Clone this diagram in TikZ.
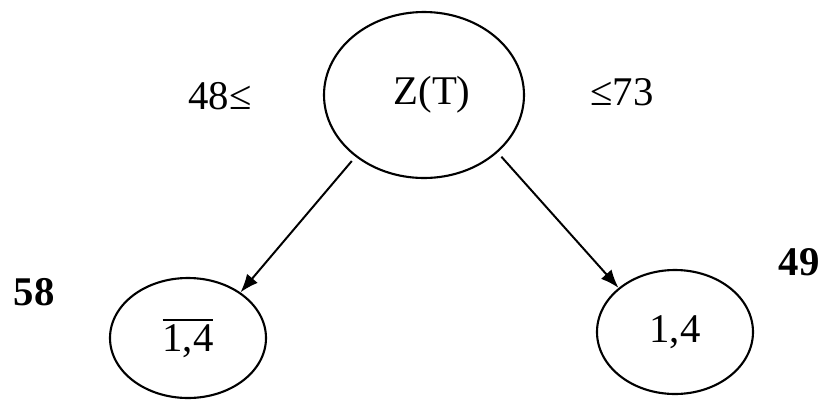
\documentclass[tikz,border=0pt]{standalone}
\usepackage{amsmath}
\usepackage{fontspec}
\setmainfont{Liberation Serif}
\usepackage{tikz}
\usetikzlibrary{arrows.meta}
\usetikzlibrary{shapes.geometric}

\begin{document}
\begin{tikzpicture}[>={Latex[length=13pt,width=10pt]}, font=\fontsize{29}{34}\selectfont,
   node_style/.style={ellipse,draw=black,line width=1.5pt,inner sep=0pt},
   edge_style/.style={draw=black,line width=1.4pt,->,shorten <=4pt}]
	\useasboundingbox (0,0) rectangle (20.625,-9.975);
	\node [node_style,minimum width=5cm,minimum height=4.15cm] (zt) at (10.6,-2.375) {\hspace{0.4cm}Z(T)};
	\node [node_style,minimum width=3.9cm,minimum height=3cm] (nl) at (4.7,-8.45) {$\overline{\text{1,4}}$};
	\node [node_style,minimum width=3.9cm,minimum height=3.1cm] (nr) at (16.875,-8.3) {1,4};

	\node (lo) at (5.5,-2.4) {48≤};
	\node (hi) at (15.55,-2.3) {≤73};
	\node [font=\fontsize{29}{34}\selectfont\bfseries] (vl) at (0.85,-7.3) {58};
	\node [font=\fontsize{29}{34}\selectfont\bfseries] (vr) at (19.98,-6.55) {49};

	\foreach \from/\to in {
		zt.222/nl.41,
		zt.322/nr.142
		}
	  \draw [edge_style] (\from) -- (\to);

	\end{tikzpicture}
\end{document}
